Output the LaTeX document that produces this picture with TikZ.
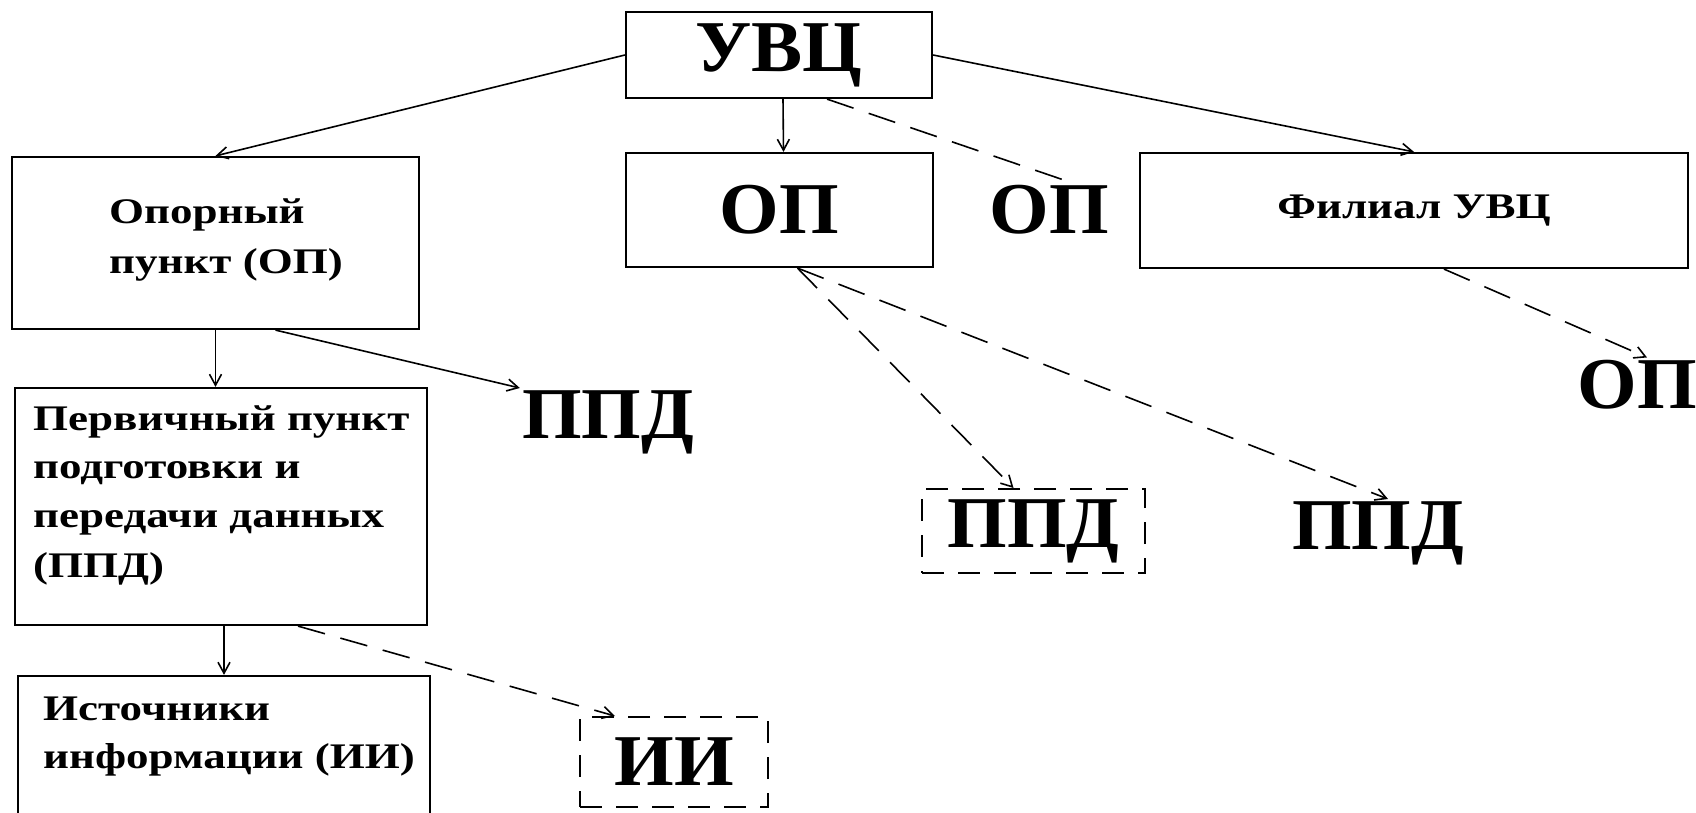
\documentclass[tikz,border=0pt]{standalone}
\usepackage{fontspec}
\setmainfont{Liberation Serif}
\newfontfamily\widefont[FakeStretch=1.25]{Liberation Serif}
\newfontfamily\bigfont[FakeStretch=1.05]{Liberation Serif}
\usetikzlibrary{arrows.meta,calc}
\tikzset{
  box/.style={draw, line width=2.2pt, inner sep=0pt},
  dbox/.style={draw, line width=2pt, dash pattern=on 22pt off 14pt, inner sep=0pt},
  big/.style={font=\bigfont\fontsize{73}{73}\selectfont\bfseries, inner sep=2pt},
  small/.style={font=\widefont\fontsize{36}{36}\selectfont\bfseries, inner sep=0pt, anchor=base west},
  conn/.style={line width=1.6pt, -{Straight Barb[length=11pt,width=12pt]}},
  dconn/.style={conn, dash pattern=on 28pt off 16pt},
  dline/.style={line width=1.6pt, dash pattern=on 28pt off 16pt}
}
\begin{document}
\begin{tikzpicture}[x=1pt,y=-1pt]
\clip (0,0) rectangle (1696,813);
\fill[white] (0,0) rectangle (1696,813);
% boxes
\node[box, big, minimum width=306pt, minimum height=86pt] (uvc) at (779,55) {УВЦ};
\node[box, big, minimum width=307pt, minimum height=114pt] (op1) at (779.5,210) {ОП};
\node[box, font=\widefont\fontsize{36}{36}\selectfont\bfseries, minimum width=548pt, minimum height=115pt] (fil) at (1414,210.5) {Филиал УВЦ};
\node[box, minimum width=407pt, minimum height=172pt] (opp) at (215.5,243) {};
\node[box, minimum width=412pt, minimum height=237pt] (perv) at (221,506.5) {};
\node[box, minimum width=412pt, minimum height=164pt] (ist) at (224,758) {};
\node[dbox, big, minimum width=223pt, minimum height=84pt] (ppdbox) at (1033.5,531) {ППД};
\node[dbox, big, minimum width=188pt, minimum height=90pt] (iibox) at (674,762) {ИИ};
% free labels
\node[big, anchor=base] (ppdA) at (608,438) {ППД};
\node[big, anchor=base] (op2) at (1049,233) {ОП};
\node[big, anchor=base] (op3) at (1637,408) {ОП};
\node[big, anchor=base] (ppdC) at (1378,549) {ППД};
% box texts
\node[small] (t1) at (109,223) {Опорный};
\node[small] (t2) at (109,273) {пункт (ОП)};
\node[small] (t3) at (33,430) {Первичный пункт};
\node[small] (t4) at (33,478) {подготовки и};
\node[small] (t5) at (33,527) {передачи данных};
\node[small] (t6) at (33,577) {(ППД)};
\node[small] (t7) at (43,720) {Источники};
\node[small] (t8) at (43,768) {информации (ИИ)};
% connectors
\draw[conn] (uvc.west) -- (opp.north);
\draw[conn] ([xshift=4pt]uvc.south) -- ([xshift=4pt]op1.north);
\draw[conn] (uvc.east) -- (fil.north);
\draw[dline] ([xshift=48pt]uvc.south) -- ([xshift=22pt]op2.north);
\draw[dconn] ([xshift=30pt]fil.south) -- ([xshift=10pt]op3.north);
\draw[dconn] ([xshift=18pt]op1.south) -- ([xshift=-20pt]ppdbox.north);
\draw[dconn] ([xshift=18pt]op1.south) -- ([xshift=10pt]ppdC.north);
\draw[conn] (opp.south) -- (opp.south |- perv.north);
\draw[conn] ([xshift=60pt]opp.south) -- (ppdA.north west);
\draw[conn] ([xshift=3pt]perv.south) -- ([xshift=3pt]perv.south |- ist.north);
\draw[dconn] ([xshift=77pt]perv.south) -- ([xshift=36pt]iibox.north west);
\end{tikzpicture}
\end{document}
